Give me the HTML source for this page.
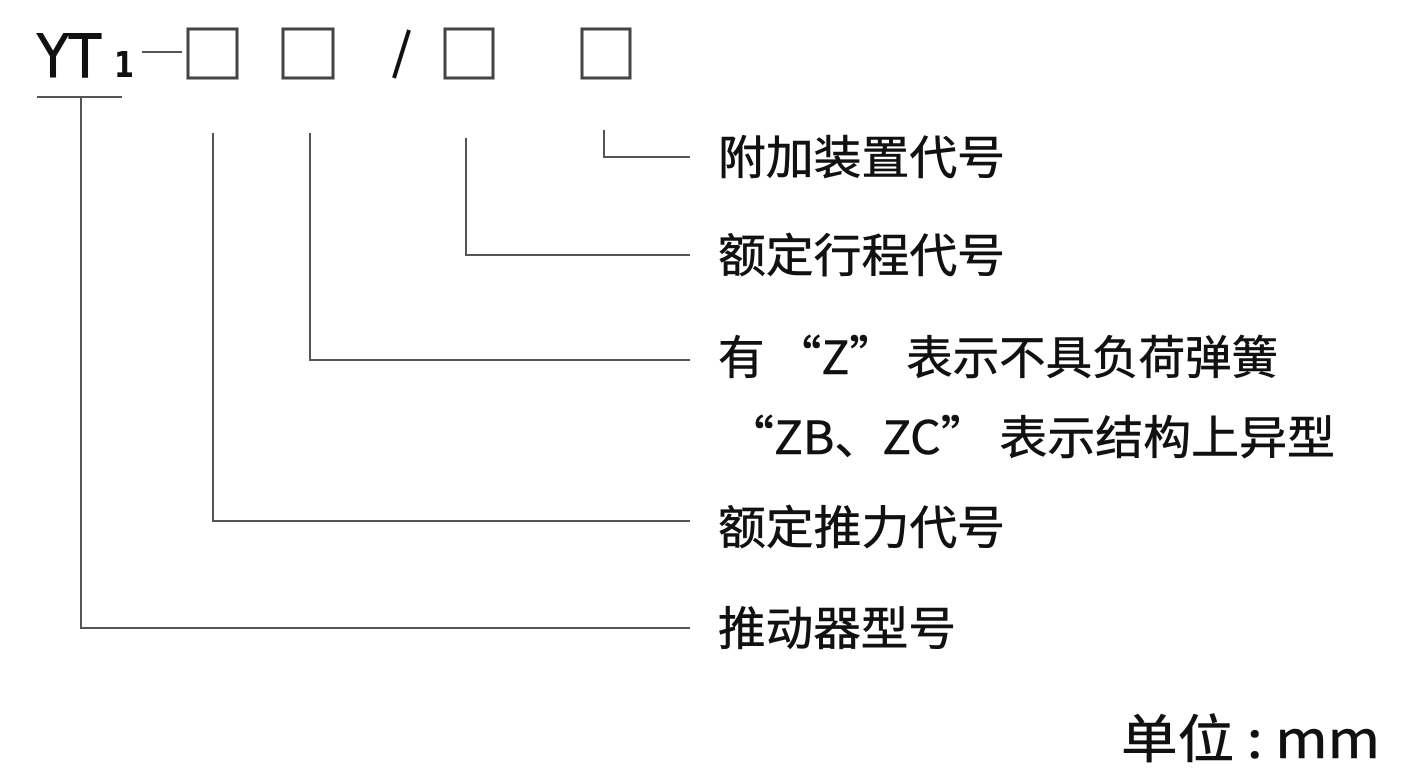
<!DOCTYPE html>
<html><head><meta charset="utf-8"><style>
html,body{margin:0;padding:0;background:#fff;}
svg{display:block}
text{font-family:"Noto Sans CJK SC","Liberation Sans",sans-serif;fill:#111;}
</style></head><body>
<svg width="1414" height="774" viewBox="0 0 1414 774">
<g fill="none" stroke="#444" stroke-width="3">
<rect x="188" y="29" width="49" height="49"/>
<rect x="283" y="29" width="50" height="49"/>
<rect x="445" y="29" width="48" height="49"/>
<rect x="582" y="29" width="48" height="49"/>
</g>
<g fill="none" stroke="#555" stroke-width="2">
<line x1="37" y1="97" x2="122" y2="97"/>
<polyline points="81,97 81,628 690,628"/>
<polyline points="213,133 213,521 690,521"/>
<polyline points="310,133 310,360 690,360"/>
<polyline points="466,138 466,255 690,255"/>
<polyline points="604,130 604,157 690,157"/>
<line x1="142" y1="52" x2="182" y2="52"/>
</g>
<line x1="409" y1="30" x2="394" y2="78" stroke="#111" stroke-width="4"/>
<text x="37" y="77" font-size="60" textLength="64" lengthAdjust="spacingAndGlyphs" stroke="#111" stroke-width="1" style="font-family:'DejaVu Sans','Liberation Sans',sans-serif">YT</text>
<text x="114" y="77" font-size="36" textLength="20" lengthAdjust="spacingAndGlyphs" style="font-family:'DejaVu Sans','Liberation Sans',sans-serif;font-weight:bold">1</text>
<g font-size="46" stroke="#111" stroke-width="0.6">
<text x="718" y="174" textLength="287" lengthAdjust="spacingAndGlyphs">附加装置代号</text>
<text x="718" y="272" textLength="287" lengthAdjust="spacingAndGlyphs">额定行程代号</text>
<text x="718" y="374" textLength="560" lengthAdjust="spacingAndGlyphs">有 “Z” 表示不具负荷弹簧</text>
<text x="726" y="454" textLength="609" lengthAdjust="spacingAndGlyphs">“ZB、ZC” 表示结构上异型</text>
<text x="718" y="544" textLength="287" lengthAdjust="spacingAndGlyphs">额定推力代号</text>
<text x="718" y="645" textLength="238" lengthAdjust="spacingAndGlyphs">推动器型号</text>
</g>
<text x="1121" y="758" font-size="52" stroke="#111" stroke-width="0.6" textLength="259" lengthAdjust="spacingAndGlyphs">单位 : mm</text>
</svg>
</body></html>
